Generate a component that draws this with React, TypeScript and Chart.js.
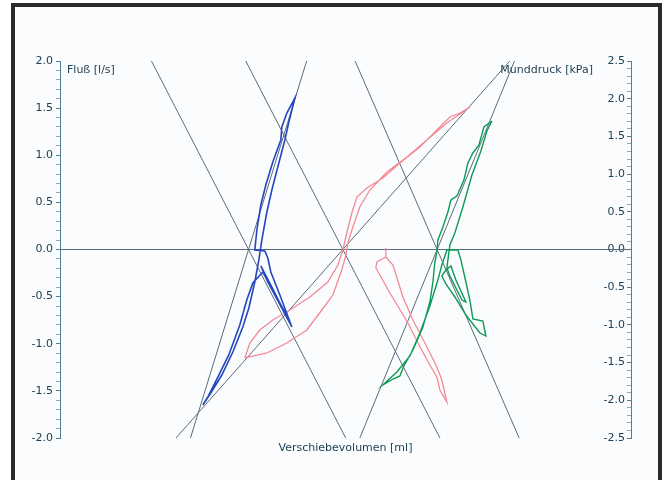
import { useEffect, useRef } from 'react';
import { Chart, registerables } from 'chart.js';

Chart.register(...registerables);

// ---- Texts ----
const flowTitle = 'Fluß [l/s]';
const pressureTitle = 'Munddruck [kPa]';
const volumeTitle = 'Verschiebevolumen [ml]';

// ---- Axis ranges ----
const flowRange = [-2.0, 2.0];
const pressureRange = [-2.5, 2.5];
const volumeRange = [-3.0, 3.056];

// ---- Blue loop ----
const blueVolume = [
  -1.485, -1.401, -1.284, -1.167, -1.061, -0.997, -0.934, -0.891, -0.859, -0.806,
  -0.753, -0.679, -0.615, -0.573, -0.509, -0.594, -0.647, -0.658, -0.743, -0.817,
  -0.870, -0.912, -0.934, -0.828, -0.796, -0.764, -0.668, -0.541, -0.626, -0.796,
  -0.870, -0.753, -0.562, -0.605, -0.849, -0.955, -1.019, -1.093, -1.210, -1.326,
  -1.432, -1.485,
];
const blueFlow = [
  -1.650, -1.523, -1.332, -1.088, -0.822, -0.621, -0.345, -0.111, 0.101, 0.398,
  0.631, 0.918, 1.162, 1.353, 1.607, 1.448, 1.300, 1.162, 0.928, 0.684,
  0.472, 0.207, -0.005, -0.016, -0.090, -0.239, -0.483, -0.822, -0.663, -0.345,
  -0.175, -0.398, -0.780, -0.684, -0.239, -0.355, -0.536, -0.801, -1.119, -1.353,
  -1.565, -1.650,
];

// ---- Pink S-shaped loop ----
const pinkVolumeA = [
  -1.040, -0.987, -0.881, -0.743, -0.562, -0.350, -0.159, -0.053, 0.000, 0.042,
  0.095, 0.149, 0.255, 0.424, 0.605, 0.817, 0.997, 1.135, 1.241, 1.347,
  1.273, 1.103, 0.891, 0.679, 0.467, 0.286, 0.180, 0.106, 0.053, 0.032,
  -0.011, -0.106, -0.223, -0.382, -0.594, -0.806, -1.040,
];
const pinkFlowA = [
  -1.151, -0.992, -0.854, -0.748, -0.642, -0.504, -0.345, -0.164, -0.005, 0.175,
  0.387, 0.557, 0.653, 0.759, 0.918, 1.088, 1.268, 1.406, 1.448, 1.512,
  1.459, 1.342, 1.162, 0.981, 0.822, 0.631, 0.451, 0.239, 0.069, -0.058,
  -0.218, -0.483, -0.642, -0.854, -0.992, -1.098, -1.151,
];

// ---- Pink descending loop ----
const pinkVolumeB = [
  0.456, 0.456, 0.531, 0.637, 0.743, 0.881, 0.987, 1.050, 1.103, 1.029,
  0.997, 0.923, 0.796, 0.690, 0.499, 0.350, 0.361, 0.456,
];
const pinkFlowB = [
  0.016, -0.080, -0.164, -0.504, -0.748, -1.013, -1.225, -1.385, -1.618, -1.491,
  -1.353, -1.225, -0.992, -0.780, -0.462, -0.196, -0.133, -0.080,
];

// ---- Green loop ----
const greenVolume = [
  1.581, 1.496, 1.443, 1.379, 1.326, 1.284, 1.210, 1.146, 1.114, 1.061,
  1.008, 0.997, 0.976, 0.955, 0.923, 0.849, 0.743, 0.647, 0.605, 0.531,
  0.424, 0.573, 0.711, 0.817, 0.923, 1.008, 1.050, 1.082, 1.103, 1.220,
  1.252, 1.305, 1.347, 1.379, 1.485, 1.517, 1.454, 1.305, 1.188, 1.093,
  1.050, 1.093, 1.146, 1.199, 1.305, 1.263, 1.135, 1.103, 1.135, 1.188,
  1.273, 1.369, 1.464, 1.528, 1.581,
];
const greenFlow = [
  1.363, 1.300, 1.109, 1.024, 0.918, 0.737, 0.568, 0.525, 0.398, 0.239,
  0.101, -0.027, -0.133, -0.345, -0.557, -0.822, -1.066, -1.236, -1.342, -1.374,
  -1.438, -1.300, -1.130, -0.886, -0.599, -0.324, -0.164, -0.069, -0.005, -0.005,
  -0.111, -0.345, -0.536, -0.737, -0.759, -0.918, -0.886, -0.695, -0.504, -0.366,
  -0.281, -0.218, -0.175, -0.324, -0.557, -0.536, -0.281, -0.196, 0.048, 0.175,
  0.451, 0.790, 1.045, 1.257, 1.363,
];

// ---- Reference (resistance) lines: volume at flow = +2 and flow = -2 ----
const refLineFlows = [2.0, -2.0];
const refLineVolumes = [
  [-2.03, 0.03],
  [-1.03, 1.03],
  [0.13, 1.87],
  [-0.384, -1.616],
  [1.77, -1.77],
  [1.82, 0.18],
];
const zeroLineVolume = [-3.0, 3.056];
const zeroLineFlow = [0, 0];

const TEXT = '#1f4054';
const AXIS = '#4f7f98';
const AXIS_MINOR = '#8aaabb';
const REF = '#5a6a7a';
const FONT = { family: '"DejaVu Sans", sans-serif', size: 11 };

const toPoints = (xs: number[], ys: number[]) => xs.map((x, i) => ({ x, y: ys[i] }));
const isMajor = (v: number) => Math.abs(v * 2 - Math.round(v * 2)) < 1e-6;

const cornerTitles = {
  id: 'cornerTitles',
  afterDatasetsDraw(chart: any) {
    const { ctx, chartArea } = chart;
    ctx.save();
    ctx.font = '11px "DejaVu Sans", sans-serif';
    ctx.fillStyle = TEXT;
    ctx.textBaseline = 'middle';
    ctx.textAlign = 'left';
    ctx.fillText(flowTitle, chartArea.left + 7, chartArea.top + 9);
    ctx.textAlign = 'right';
    ctx.fillText(pressureTitle, chartArea.right - 38, chartArea.top + 9);
    ctx.restore();
  },
};

export default function App() {
  const canvasRef = useRef<HTMLCanvasElement | null>(null);

  useEffect(() => {
    if (!canvasRef.current) return;
    const loop = (label: string, xs: number[], ys: number[], color: string, width: number) => ({
      label,
      data: toPoints(xs, ys),
      showLine: true,
      borderColor: color,
      borderWidth: width,
      pointRadius: 0,
      fill: false,
      tension: 0,
    });
    const refSets = refLineVolumes.map((v, i) =>
      loop('ref' + i, v, refLineFlows, REF, 1)
    );
    const chart = new Chart(canvasRef.current, {
      type: 'scatter',
      data: {
        datasets: [
          loop('blue', blueVolume, blueFlow, '#2446bf', 1.6),
          loop('green', greenVolume, greenFlow, '#0c9a55', 1.4),
          loop('pinkA', pinkVolumeA, pinkFlowA, '#f28a96', 1.3),
          loop('pinkB', pinkVolumeB, pinkFlowB, '#f28a96', 1.3),
          ...refSets,
          loop('zero', zeroLineVolume, zeroLineFlow, REF, 1),
        ],
      },
      options: {
        responsive: false,
        animation: false,
        events: [],
        layout: { padding: { left: 20, right: 30, top: 61, bottom: 25 } },
        plugins: { legend: { display: false }, tooltip: { enabled: false } },
        scales: {
          x: {
            type: 'linear',
            position: 'bottom',
            min: volumeRange[0],
            max: volumeRange[1],
            ticks: { display: false },
            grid: { display: false },
            border: { display: false },
            title: { display: true, text: volumeTitle, color: TEXT, font: FONT, padding: 0 },
            afterFit: (s: any) => { s.height = 17; },
          },
          y: {
            type: 'linear',
            position: 'left',
            min: flowRange[0],
            max: flowRange[1],
            ticks: {
              stepSize: 0.1,
              autoSkip: false,
              padding: 3,
              color: TEXT,
              font: FONT,
              callback: (v: any) => (isMajor(Number(v)) ? Number(v).toFixed(1) : ''),
            },
            grid: {
              drawOnChartArea: false,
              tickLength: 4,
              tickColor: (c: any) => (c.tick && isMajor(c.tick.value) ? AXIS : AXIS_MINOR),
            },
            border: { color: AXIS, width: 1 },
            afterFit: (s: any) => { s.width = 40; },
          },
          y2: {
            type: 'linear',
            position: 'right',
            min: pressureRange[0],
            max: pressureRange[1],
            ticks: {
              stepSize: 0.1,
              autoSkip: false,
              mirror: true,
              padding: -6,
              color: TEXT,
              font: FONT,
              callback: (v: any) => (isMajor(Number(v)) ? Number(v).toFixed(1) : ''),
            },
            grid: {
              drawOnChartArea: false,
              tickLength: -4,
              tickColor: (c: any) => (c.tick && isMajor(c.tick.value) ? AXIS : AXIS_MINOR),
            },
            border: { color: AXIS, width: 1 },
            afterFit: (s: any) => { s.width = 4; },
          },
        },
      },
      plugins: [cornerTitles],
    } as any);
    return () => chart.destroy();
  }, []);

  return (
    <div style={{ position: 'fixed', left: 0, top: 0, width: 665, height: 480, background: '#ffffff', overflow: 'hidden' }}>
      <div
        style={{
          position: 'absolute',
          left: 11,
          top: 3,
          width: 651,
          height: 520,
          boxSizing: 'border-box',
          border: '4px solid #2b2b2b',
          background: '#fbfcfe',
        }}
      />
      <canvas
        ref={canvasRef}
        width={665}
        height={480}
        style={{ position: 'absolute', left: 0, top: 0, width: 665, height: 480, display: 'block' }}
      />
    </div>
  );
}
